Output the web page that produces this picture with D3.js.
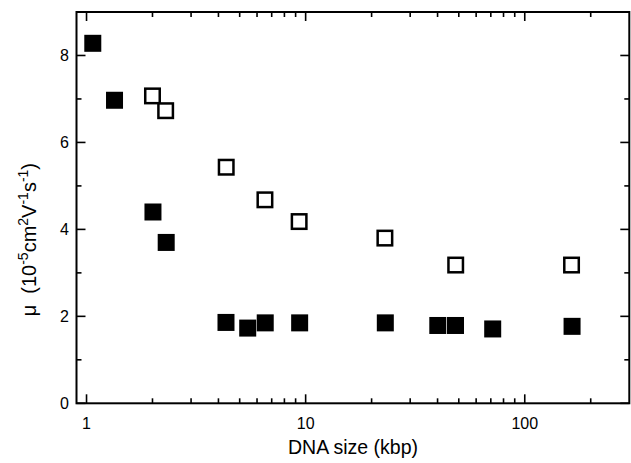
<!DOCTYPE html>
<html><head><meta charset="utf-8">
<script src="https://cdn.jsdelivr.net/npm/d3@7"></script>
<style>body{margin:0;background:#fff}text{font-family:"Liberation Sans",Arial,sans-serif;fill:#000;white-space:pre}</style>
</head><body><svg id="c" width="631" height="463"></svg>
<script>
const filledX = [1.068, 1.342, 2.01, 2.31, 4.33, 5.44, 6.54, 9.39, 23.1, 40.1, 48.3, 71.4, 164.4];
const filledY = [8.28, 6.97, 4.40, 3.70, 1.86, 1.73, 1.85, 1.85, 1.85, 1.79, 1.79, 1.71, 1.77];
const openX = [2.0, 2.297, 4.34, 6.52, 9.34, 23.0, 48.4, 163.5];
const openY = [7.07, 6.73, 5.43, 4.68, 4.18, 3.80, 3.18, 3.18];
const xMajor = [1, 10, 100];
const xMinor = [2,3,4,5,6,7,8,9,20,30,40,50,60,70,80,90,200];
const yMajor = [0, 2, 4, 6, 8];
const yMinor = [1, 3, 5, 7];

const svg = d3.select("#c");
const L = 76.5, R = 629.3, T = 12, B = 403.3;
const x = d3.scaleLog().domain([0.9, 300]).range([L, R]);
const y = d3.scaleLinear().domain([0, 9]).range([B, T]);

const g = svg.append("g");
const tk = (x1,y1,x2,y2) => g.append("line").attr("x1",x1).attr("y1",y1).attr("x2",x2).attr("y2",y2).attr("stroke","#000").attr("stroke-width",1.6);
xMajor.forEach(v => { tk(x(v),B,x(v),B-9); tk(x(v),T,x(v),T+9); });
xMinor.forEach(v => { tk(x(v),B,x(v),B-5); tk(x(v),T,x(v),T+5); });
yMajor.forEach(v => { tk(L,y(v),L+9,y(v)); tk(R,y(v),R-9,y(v)); });
yMinor.forEach(v => { tk(L,y(v),L+5,y(v)); tk(R,y(v),R-5,y(v)); });

g.append("rect").attr("x",L).attr("y",T).attr("width",R-L).attr("height",B-T)
 .attr("fill","none").attr("stroke","#000").attr("stroke-width",2);

xMajor.forEach(v => g.append("text").attr("x",x(v)).attr("y",429).attr("text-anchor","middle").attr("font-size",16).text(v));
yMajor.forEach(v => g.append("text").attr("x",69).attr("y",y(v)+6).attr("text-anchor","end").attr("font-size",16).text(v));

g.append("text").attr("x",353).attr("y",454).attr("text-anchor","middle").attr("font-size",19.5).text("DNA size (kbp)");
const yt = g.append("text").attr("transform","translate(36,"+((T+B)/2+32)+") rotate(-90)").attr("text-anchor","middle").attr("font-size",20);
const parts = [["μ  (10",0],["-5",1],["cm",0],["2",1],["V",0],["-1",1],["s",0],["-1",1],[")",0]];
parts.forEach(([t,s]) => {
  const ts = yt.append("tspan").text(t);
  if (s) ts.attr("baseline-shift","super").attr("font-size",14);
});

const S = 17;
const filled = filledX.map((v,i)=>({x:v,y:filledY[i]}));
const open = openX.map((v,i)=>({x:v,y:openY[i]}));
g.selectAll(".f").data(filled).enter().append("rect")
 .attr("x",d=>x(d.x)-S/2).attr("y",d=>y(d.y)-S/2).attr("width",S).attr("height",S).attr("fill","#000");
g.selectAll(".o").data(open).enter().append("rect")
 .attr("x",d=>x(d.x)-S/2+1.25).attr("y",d=>y(d.y)-S/2+1.25).attr("width",S-2.5).attr("height",S-2.5)
 .attr("fill","#fff").attr("stroke","#000").attr("stroke-width",2.5);
</script></body></html>
